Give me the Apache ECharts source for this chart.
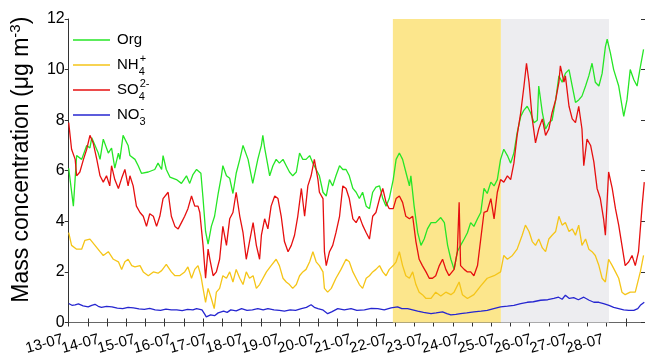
<!DOCTYPE html>
<html><head><meta charset="utf-8">
<script src="https://cdn.jsdelivr.net/npm/echarts@6/dist/echarts.min.js"></script>
<style>html,body{margin:0;padding:0;background:#fff}#c{width:645px;height:357px}</style>
</head><body><div id="c"></div>
<script>
// ---- axis / labels ----
const dayLabels = [13,14,15,16,17,18,19,20,21,22,23,24,25,26,27,28];
const monthSuffix = '-07';
const xMin = 13, xMax = 29;
const yTicks = [0,2,4,6,8,10,12];
const shadeYellow = [22, 25];
const shadeGrey = [25, 28];
const seriesNames = ['Org', 'NH4+', 'SO42-', 'NO3-'];

// ---- Org ----
const orgDay = [13.00,13.13,13.22,13.36,13.50,13.59,13.64,13.82,13.87,13.96,
 14.10,14.19,14.28,14.38,14.42,14.51,14.65,14.70,14.84,14.93,
 15.02,15.21,15.39,15.48,15.58,15.62,15.71,15.81,15.99,16.13,
 16.27,16.36,16.45,16.55,16.67,16.73,16.80,16.87,16.96,17.05,
 17.15,17.24,17.28,17.38,17.47,17.56,17.65,17.75,17.84,17.98,
 18.11,18.25,18.35,18.39,18.44,18.53,18.58,18.67,18.76,18.85,
 18.95,19.04,19.13,19.22,19.32,19.41,19.50,19.59,19.69,19.78,
 19.87,19.96,20.06,20.15,20.24,20.33,20.42,20.52,20.61,20.70,
 20.79,20.89,20.98,21.07,21.16,21.26,21.35,21.44,21.53,21.63,
 21.72,21.81,21.90,22.01,22.09,22.18,22.27,22.36,22.46,22.50,
 22.59,22.69,22.78,22.87,22.96,23.06,23.19,23.33,23.43,23.52,
 23.61,23.70,23.79,23.88,23.98,24.07,24.16,24.25,24.35,24.44,
 24.53,24.62,24.72,24.81,24.90,24.99,25.08,25.18,25.27,25.36,
 25.45,25.55,25.64,25.73,25.82,25.92,26.01,26.05,26.15,26.24,
 26.33,26.42,26.52,26.61,26.70,26.79,26.89,26.98,27.07,27.16,
 27.25,27.35,27.44,27.53,27.62,27.72,27.81,27.90,27.95,28.04,
 28.13,28.27,28.41,28.50,28.59,28.69,28.78,28.87,28.96];
const orgVal = [6.1,4.6,6.6,6.45,7.0,6.9,7.3,6.7,6.45,7.25,
 6.7,6.9,6.1,6.7,6.45,7.4,7.0,6.6,6.45,6.2,
 5.9,5.95,6.05,6.3,6.05,6.6,6.05,5.75,5.65,5.5,
 5.8,5.5,5.85,6.05,5.9,4.9,3.6,3.1,3.8,4.2,
 5.1,5.8,6.2,5.8,5.7,5.1,5.9,6.45,7.0,6.45,
 5.5,6.45,7.0,7.4,6.9,6.2,5.8,6.2,6.45,6.3,
 6.45,6.2,5.95,5.8,5.95,6.7,6.45,6.45,6.6,6.3,
 6.05,5.8,5.15,5.0,5.65,5.4,5.8,6.2,6.05,6.05,
 5.8,5.3,5.15,4.9,5.15,4.6,4.5,5.15,5.35,5.4,
 4.9,4.6,4.9,5.65,6.45,6.7,6.45,5.95,5.4,5.8,
 4.6,3.55,3.05,3.3,3.7,3.95,3.95,4.15,3.95,3.05,
 2.5,2.1,2.8,3.05,3.3,3.55,3.95,3.8,4.1,4.35,
 5.3,5.1,5.55,5.4,5.65,6.45,6.85,6.6,6.3,6.7,
 7.5,8.15,8.4,8.55,8.3,7.9,8.0,9.35,8.3,7.65,
 7.9,8.0,8.8,9.75,9.5,9.85,10.0,9.35,8.7,8.8,
 8.95,9.35,9.75,10.25,9.5,9.35,9.85,10.9,11.2,10.65,
 10.0,9.35,8.15,8.8,10.0,9.6,9.35,10.1,10.8];

// ---- NH4+ ----
const nh4Day = [13.00,13.08,13.22,13.36,13.45,13.59,13.73,13.87,13.96,14.10,
 14.24,14.38,14.47,14.56,14.65,14.75,14.84,14.98,15.07,15.21,
 15.35,15.48,15.58,15.71,15.85,15.95,16.08,16.22,16.31,16.41,
 16.50,16.59,16.67,16.73,16.80,16.87,16.96,17.04,17.10,17.19,
 17.28,17.38,17.47,17.56,17.65,17.75,17.84,17.93,18.02,18.12,
 18.21,18.30,18.49,18.62,18.76,18.85,18.95,19.04,19.13,19.22,
 19.32,19.41,19.50,19.59,19.69,19.78,19.87,19.96,20.06,20.10,
 20.19,20.29,20.42,20.56,20.70,20.79,20.89,20.98,21.07,21.16,
 21.26,21.35,21.44,21.53,21.63,21.72,21.81,21.90,22.01,22.09,
 22.18,22.27,22.36,22.46,22.55,22.64,22.73,22.82,22.92,23.06,
 23.19,23.33,23.47,23.61,23.70,23.84,23.93,24.07,24.25,24.44,
 24.62,24.81,24.99,25.08,25.18,25.32,25.45,25.59,25.68,25.78,
 25.87,25.96,26.05,26.15,26.24,26.33,26.42,26.52,26.61,26.70,
 26.79,26.89,26.98,27.07,27.16,27.25,27.35,27.44,27.53,27.62,
 27.72,27.81,27.90,27.99,28.09,28.18,28.27,28.36,28.45,28.59,
 28.73,28.87,28.96];
const nh4Val = [3.55,3.05,2.9,2.9,3.25,3.3,3.05,2.8,2.65,2.8,
 2.5,2.4,2.1,2.4,2.5,2.25,2.2,2.25,2.0,1.85,
 2.0,1.95,2.05,2.3,2.0,1.85,1.85,2.0,2.2,1.75,
 2.1,2.25,1.85,1.35,0.8,1.35,0.95,0.55,1.2,1.35,
 1.85,1.75,2.0,1.6,2.1,1.75,1.5,2.0,1.75,1.85,
 1.35,1.5,2.0,2.25,2.5,2.25,1.75,1.6,1.5,1.35,
 1.5,1.85,2.0,2.1,2.4,2.8,2.4,2.25,2.0,1.35,
 1.2,1.35,1.75,2.1,2.5,2.4,2.0,1.75,1.5,1.35,
 1.75,1.85,2.0,2.1,2.25,2.0,1.85,2.1,2.25,2.4,
 2.8,2.25,1.85,1.75,2.0,1.5,1.2,1.1,0.95,0.95,
 1.2,1.05,1.2,1.1,1.2,1.6,1.1,0.95,1.1,1.45,
 1.75,1.85,2.0,2.65,2.5,2.65,2.9,3.45,3.85,3.6,
 3.2,3.05,3.3,2.95,2.8,3.3,3.45,3.6,4.2,3.85,
 3.95,3.6,3.7,3.45,3.85,3.05,3.3,2.9,2.8,2.65,
 2.25,1.75,1.6,2.5,2.25,2.0,1.75,1.2,1.1,1.2,
 1.2,2.0,2.65];

// ---- SO4 2- ----
const so4Day = [13.00,13.08,13.18,13.22,13.31,13.41,13.50,13.59,13.68,13.78,
 13.87,13.96,14.05,14.14,14.19,14.28,14.38,14.47,14.56,14.65,
 14.70,14.79,14.88,14.98,15.07,15.16,15.25,15.35,15.44,15.53,
 15.62,15.76,15.85,15.95,16.04,16.13,16.22,16.31,16.41,16.50,
 16.59,16.64,16.73,16.80,16.87,16.92,17.01,17.10,17.19,17.28,
 17.38,17.47,17.56,17.65,17.75,17.84,17.93,18.02,18.12,18.21,
 18.30,18.35,18.44,18.53,18.62,18.72,18.81,18.90,18.99,19.09,
 19.18,19.27,19.36,19.46,19.55,19.64,19.73,19.82,19.92,19.96,
 20.06,20.10,20.15,20.24,20.33,20.42,20.52,20.61,20.70,20.79,
 20.89,20.98,21.07,21.16,21.26,21.35,21.44,21.53,21.63,21.72,
 21.81,21.90,22.01,22.09,22.18,22.27,22.36,22.46,22.55,22.64,
 22.73,22.82,22.92,23.01,23.10,23.19,23.29,23.38,23.47,23.56,
 23.70,23.79,23.84,23.88,23.98,24.07,24.16,24.25,24.35,24.44,
 24.53,24.62,24.72,24.81,24.90,24.99,25.08,25.18,25.27,25.36,
 25.45,25.55,25.64,25.71,25.78,25.87,25.96,26.05,26.15,26.24,
 26.33,26.42,26.52,26.61,26.65,26.75,26.79,26.89,26.98,27.07,
 27.16,27.25,27.30,27.39,27.49,27.58,27.67,27.76,27.85,27.90,
 27.99,28.09,28.18,28.27,28.36,28.45,28.55,28.64,28.73,28.82,
 28.92,28.98];
const so4Val = [7.9,6.85,6.45,5.8,5.95,6.45,6.85,7.4,7.1,6.45,
 5.8,5.55,5.8,5.4,6.2,5.65,5.3,5.7,6.05,5.4,
 5.8,5.4,4.6,4.35,4.2,3.8,4.3,4.2,3.8,4.2,
 4.9,5.15,4.2,3.8,3.7,3.95,4.2,4.5,5.0,4.6,
 4.6,4.35,3.05,1.75,2.9,2.5,1.85,2.0,2.5,3.8,
 3.05,4.1,4.35,5.15,4.2,3.55,2.5,3.2,3.95,3.05,
 2.5,3.45,4.1,3.7,4.6,5.0,4.9,4.2,3.2,2.8,
 3.05,3.45,4.2,5.3,4.2,5.4,5.8,6.45,5.65,5.15,
 4.9,2.8,2.25,2.8,3.05,3.55,4.2,5.4,5.3,4.9,
 4.1,3.95,4.2,3.85,3.55,3.3,4.2,4.35,4.9,5.3,
 4.75,4.5,4.5,4.9,5.0,4.75,4.2,4.1,4.2,3.2,
 2.5,2.25,2.0,1.75,1.75,1.85,2.25,2.5,2.1,1.85,
 2.1,2.8,4.75,2.25,2.1,2.0,2.0,1.85,2.25,3.3,
 4.35,4.4,4.9,4.1,5.15,5.65,5.55,5.8,5.65,6.3,
 7.4,8.3,9.35,10.25,9.5,8.05,7.1,7.65,8.05,7.4,
 7.65,8.3,8.8,9.5,10.15,9.5,9.75,8.55,8.05,7.9,
 8.55,7.65,6.2,7.25,7.0,6.35,5.3,4.9,4.1,3.45,
 5.95,5.3,4.5,3.85,3.05,2.25,2.4,2.65,2.25,2.8,
 4.6,5.55];

// ---- NO3- ----
const no3Day = [13.00,13.09,13.18,13.27,13.40,13.54,13.64,13.73,13.82,13.91,
 14.05,14.20,14.35,14.50,14.65,14.80,14.95,15.10,15.25,15.40,
 15.55,15.70,15.85,16.00,16.15,16.30,16.45,16.55,16.70,16.78,
 16.82,16.94,17.05,17.15,17.30,17.40,17.50,17.65,17.80,17.95,
 18.10,18.25,18.40,18.53,18.70,18.85,18.99,19.15,19.30,19.46,
 19.60,19.73,19.82,19.92,20.05,20.19,20.30,20.47,20.65,20.84,
 21.00,21.21,21.40,21.58,21.76,21.95,22.13,22.25,22.41,22.55,
 22.69,22.85,23.06,23.20,23.38,23.50,23.61,23.75,23.88,24.05,
 24.25,24.45,24.62,24.80,24.99,25.18,25.36,25.55,25.73,25.90,
 26.10,26.30,26.47,26.60,26.70,26.79,26.90,27.02,27.15,27.30,
 27.45,27.58,27.72,27.85,28.00,28.13,28.27,28.41,28.55,28.69,
 28.80,28.87,28.98];
const no3Val = [0.75,0.68,0.7,0.74,0.66,0.62,0.68,0.72,0.64,0.6,
 0.64,0.62,0.57,0.55,0.6,0.58,0.54,0.52,0.56,0.5,
 0.48,0.53,0.5,0.5,0.47,0.52,0.5,0.55,0.5,0.32,
 0.22,0.3,0.27,0.38,0.45,0.4,0.5,0.46,0.55,0.48,
 0.5,0.55,0.5,0.55,0.5,0.48,0.45,0.5,0.48,0.55,
 0.6,0.7,0.6,0.55,0.5,0.35,0.42,0.55,0.5,0.55,
 0.48,0.5,0.56,0.55,0.5,0.58,0.62,0.55,0.55,0.5,
 0.45,0.4,0.35,0.38,0.42,0.35,0.3,0.32,0.35,0.38,
 0.42,0.45,0.48,0.55,0.62,0.65,0.68,0.75,0.8,0.82,
 0.88,0.9,0.95,1.0,0.92,1.08,0.95,0.98,0.9,1.0,
 0.88,0.8,0.8,0.75,0.68,0.6,0.55,0.5,0.48,0.48,
 0.55,0.68,0.8];

const FONT = "'Liberation Sans', Arial, Helvetica, sans-serif";
const tickCount = 30;
const tickVals = Array.from({length: tickCount + 1}, (_, k) => xMin + k * (xMax - xMin) / tickCount);
const zip = (d, v) => d.map((x, i) => [x, v[i]]);
const AX = '#333';
const oddLabels = dayLabels.filter((d, i) => i % 2 === 0);
const evenLabels = dayLabels.filter((d, i) => i % 2 === 1);

const legendRich = {
  b: {fontFamily: FONT, fontSize: 15, color: '#000', lineHeight: 24, padding: [0,0,0,2]},
  sb: {fontFamily: FONT, fontSize: 11, color: '#000', verticalAlign: 'bottom', lineHeight: 12, width: 1},
  sp: {fontFamily: FONT, fontSize: 11, color: '#000', verticalAlign: 'top', lineHeight: 12}
};
const legendText = {
  'Org': '{b|Org}',
  'NH4+': '{b|NH}{sb|4}{sp|+}',
  'SO42-': '{b|SO}{sb|4}{sp|2-}',
  'NO3-': '{b|NO}{sb|3}{sp|-}'
};

const colors = ['#26e626', '#f5c518', '#e60f0f', '#2626d0'];
const dataSets = [zip(orgDay, orgVal), zip(nh4Day, nh4Val), zip(so4Day, so4Val), zip(no3Day, no3Val)];

const series = seriesNames.map((n, i) => ({
  name: n, type: 'line', data: dataSets[i], symbol: 'none', showSymbol: false,
  xAxisIndex: 0, yAxisIndex: 0,
  lineStyle: {width: 1.3, color: colors[i]}, itemStyle: {color: colors[i]},
  animation: false
}));
series[0].markArea = {
  silent: true,
  data: [
    [{xAxis: shadeYellow[0], itemStyle: {color: '#fce68c'}}, {xAxis: shadeYellow[1]}],
    [{xAxis: shadeGrey[0], itemStyle: {color: '#ededf0'}}, {xAxis: shadeGrey[1]}]
  ]
};

const labelStyle = (vals) => ({
  customValues: vals, rotate: 15, margin: 15, padding: [0, 6, 0, 0],
  showMinLabel: true, showMaxLabel: true,
  fontFamily: FONT, fontSize: 15, color: '#000',
  formatter: v => v + monthSuffix
});

const chart = echarts.init(document.getElementById('c'), null, {renderer: 'canvas'});
chart.setOption({
  animation: false,
  grid: {left: 67, right: 0, top: 19, bottom: 33, containLabel: false},
  legend: {
    orient: 'vertical', left: 73, top: 28, padding: 0, itemWidth: 37, itemHeight: 1.6, itemGap: 1,
    icon: 'rect',
    data: seriesNames,
    textStyle: {fontFamily: FONT, fontSize: 15, color: '#000', lineHeight: 24, rich: legendRich},
    formatter: n => legendText[n]
  },
  xAxis: [
    {
      type: 'value', position: 'bottom', min: xMin, max: xMax,
      axisLine: {show: true, lineStyle: {color: AX, width: 1}},
      axisTick: {show: true, inside: true, length: 4, customValues: tickVals, lineStyle: {color: AX}},
      splitLine: {show: false},
      axisLabel: labelStyle(oddLabels)
    },
    {
      type: 'value', position: 'top', min: xMin, max: xMax,
      axisLine: {show: true, lineStyle: {color: '#666', width: 1}},
      axisTick: {show: true, inside: true, length: 4, customValues: tickVals, lineStyle: {color: AX}},
      splitLine: {show: false}, axisLabel: {show: false}
    },
    {
      type: 'value', position: 'bottom', min: xMin, max: xMax,
      axisLine: {show: false}, axisTick: {show: false}, splitLine: {show: false},
      axisLabel: labelStyle(evenLabels)
    }
  ],
  yAxis: [
    {
      type: 'value', position: 'left', min: 0, max: 12, interval: 2,
      axisLine: {show: true, lineStyle: {color: AX, width: 1}},
      axisTick: {show: true, inside: false, length: 4, lineStyle: {color: AX}},
      splitLine: {show: false},
      axisLabel: {fontFamily: FONT, fontSize: 16, color: '#000', margin: 4,
        formatter: v => yTicks.includes(v) ? String(v) : ''},
      name: 'Mass concentration (μg m{sp|-3})',
      nameLocation: 'middle', nameGap: 30,
      nameTextStyle: {fontFamily: FONT, fontSize: 23, color: '#000', lineHeight: 28, padding: [0, 0, 0, 22],
        rich: {sp: {fontFamily: FONT, fontSize: 15, color: '#000', verticalAlign: 'top', lineHeight: 15}}}
    },
    {
      type: 'value', position: 'right', min: 0, max: 12, interval: 2,
      axisLine: {show: false},
      axisTick: {show: true, inside: true, length: 4, lineStyle: {color: AX}},
      splitLine: {show: false}, axisLabel: {show: false}
    }
  ],
  series
});
</script>
</body></html>
